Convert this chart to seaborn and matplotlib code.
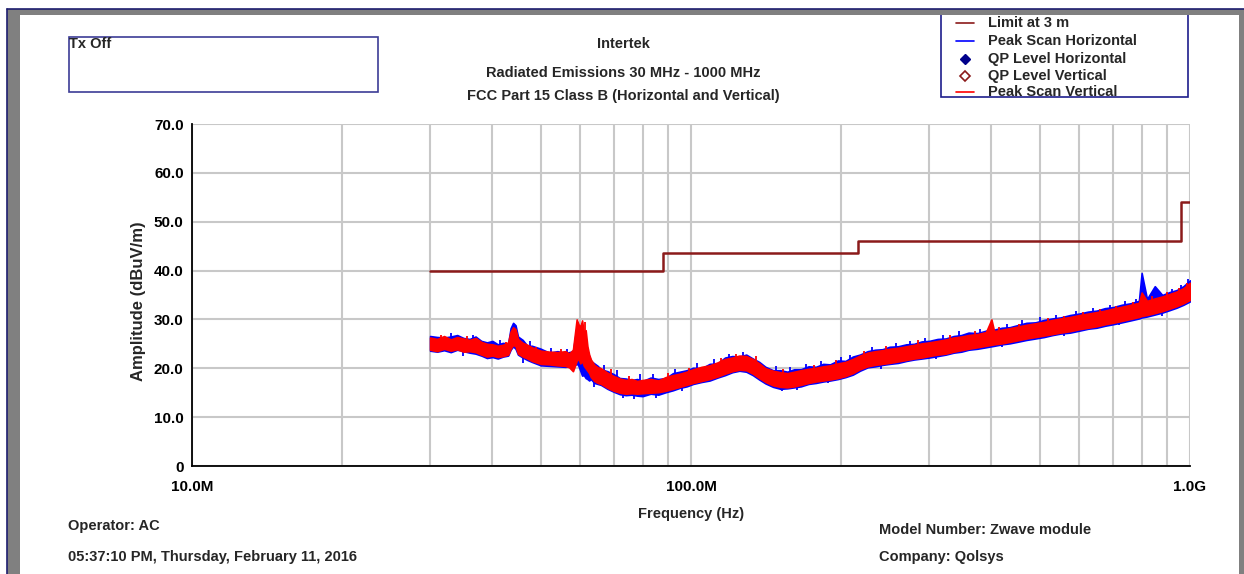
import numpy as np
import pandas as pd
import seaborn as sns
import matplotlib.pyplot as plt
from matplotlib.patches import Rectangle
from matplotlib.lines import Line2D
from matplotlib.ticker import LogLocator, FixedLocator, MultipleLocator, FuncFormatter, NullFormatter

# ---- data (MHz / dBuV/m) ----
freq_mhz = [30, 31, 32, 33, 34, 35, 36, 37, 38, 39, 40, 41, 42, 43, 43.5, 44, 44.5, 45, 46, 47,
            48, 50, 52, 54, 56, 57, 58, 59, 59.5, 60, 60.5, 61, 61.5, 62, 62.5, 63, 64, 65, 66, 68,
            70, 72, 74, 76, 78, 80, 83, 86, 89, 92, 95, 98, 101, 105, 109, 113, 117, 121, 125, 129,
            133, 137, 141, 146, 151, 156, 161, 166, 172, 178, 184, 190, 197, 204, 211, 218, 226, 234, 242, 250,
            260, 270, 280, 290, 300, 312, 324, 336, 348, 360, 375, 390, 400, 405, 420, 435, 450, 470, 490, 510,
            530, 550, 575, 600, 625, 650, 675, 700, 730, 760, 790, 800, 820, 850, 880, 910, 940, 970, 1000]

# peak scan vertical (red) envelope
vert_hi = [26.3, 26.0, 26.6, 25.9, 26.4, 26.1, 25.8, 26.2, 25.4, 25.0, 24.9, 24.6, 24.8, 25.3, 27.5, 28.4, 28.0, 26.0, 25.2, 24.8,
           24.3, 23.6, 23.4, 23.3, 23.5, 23.0, 23.8, 30.0, 29.0, 28.5, 29.8, 27.0, 27.8, 24.5, 22.8, 21.8, 20.7, 20.2, 20.0, 19.1,
           18.4, 17.9, 17.6, 17.8, 17.4, 17.6, 17.8, 17.5, 18.2, 18.6, 18.9, 19.3, 19.8, 20.3, 20.6, 21.2, 21.9, 22.2, 22.6, 22.5,
           21.9, 21.0, 20.0, 19.5, 19.2, 19.0, 19.3, 19.6, 19.9, 20.1, 20.4, 20.6, 21.0, 21.3, 21.9, 22.6, 23.2, 23.5, 23.7, 24.0,
           24.2, 24.5, 24.8, 25.1, 25.3, 25.6, 25.9, 26.3, 26.5, 26.8, 27.0, 27.4, 30.0, 27.6, 27.9, 28.2, 28.5, 28.9, 29.2, 29.5,
           29.9, 30.2, 30.5, 30.9, 31.2, 31.5, 31.8, 32.2, 32.6, 33.0, 33.4, 35.5, 33.8, 34.3, 34.7, 35.2, 35.7, 36.4, 37.5]
vert_lo = [23.8, 23.5, 24.0, 23.6, 23.9, 23.4, 23.5, 23.3, 22.8, 22.4, 22.6, 22.3, 22.5, 22.8, 24.0, 24.8, 24.5, 23.0, 22.4, 22.0,
           21.5, 20.9, 20.8, 20.6, 20.5, 20.2, 19.4, 21.5, 22.0, 21.0, 21.5, 20.5, 20.0, 19.5, 19.0, 18.2, 17.4, 17.0, 16.8, 16.0,
           15.4, 15.0, 14.8, 14.9, 14.8, 14.9, 15.0, 15.1, 15.4, 15.8, 16.2, 16.6, 17.0, 17.4, 17.8, 18.3, 18.9, 19.4, 19.7, 19.6,
           18.9, 18.0, 17.2, 16.5, 16.2, 16.1, 16.3, 16.6, 17.0, 17.3, 17.5, 17.7, 18.0, 18.4, 19.0, 19.8, 20.4, 20.7, 20.9, 21.1,
           21.4, 21.7, 22.0, 22.2, 22.5, 22.8, 23.0, 23.4, 23.7, 24.0, 24.3, 24.6, 24.8, 24.9, 25.1, 25.4, 25.7, 26.1, 26.4, 26.7,
           27.0, 27.3, 27.6, 28.0, 28.3, 28.6, 29.0, 29.3, 29.7, 30.1, 30.5, 30.7, 30.9, 31.3, 31.7, 32.2, 32.7, 33.3, 34.0]

# peak scan horizontal (blue) envelope
horiz_hi = [26.6, 26.4, 26.3, 26.5, 26.8, 26.2, 26.0, 26.5, 25.6, 25.3, 25.6, 24.9, 25.2, 25.0, 28.2, 29.3, 28.8, 26.5, 25.8, 24.6,
            24.6, 24.0, 23.2, 23.5, 23.1, 23.3, 23.5, 28.5, 27.5, 27.9, 26.5, 27.5, 26.0, 23.5, 22.5, 21.5, 21.0, 20.5, 19.8, 19.4,
            18.8, 18.0, 17.9, 17.6, 17.8, 17.4, 18.1, 17.8, 18.0, 19.0, 19.3, 19.6, 20.1, 20.0, 20.9, 21.0, 22.2, 22.5, 22.4, 22.8,
            22.0, 21.3, 20.3, 19.6, 19.6, 19.3, 19.8, 19.8, 20.4, 20.3, 20.9, 20.8, 21.6, 21.5, 22.4, 22.8, 23.5, 23.8, 23.9, 24.4,
            24.5, 24.9, 25.0, 25.5, 25.6, 26.0, 26.1, 26.6, 26.8, 27.3, 27.2, 27.7, 28.0, 27.9, 28.3, 28.4, 28.8, 29.3, 29.4, 29.9,
            30.2, 30.4, 30.9, 31.2, 31.6, 31.8, 32.3, 32.5, 33.0, 33.3, 33.8, 39.5, 34.2, 36.8, 35.0, 35.6, 36.0, 36.8, 38.0]
horiz_lo = [23.6, 23.4, 23.7, 23.3, 23.8, 23.5, 23.2, 23.0, 22.6, 22.1, 22.3, 22.0, 22.4, 22.6, 23.8, 24.5, 24.0, 22.8, 22.2, 21.7,
            21.3, 20.6, 20.5, 20.4, 20.3, 20.4, 20.2, 21.0, 20.5, 19.5, 18.5, 18.6, 18.0, 17.8, 17.5, 17.8, 17.0, 16.8, 16.6, 15.8,
            15.2, 14.7, 14.5, 14.6, 14.4, 14.3, 14.8, 14.6, 15.1, 15.5, 16.0, 16.3, 16.8, 17.2, 17.5, 18.1, 18.6, 19.2, 19.5, 19.3,
            18.6, 17.7, 16.9, 16.2, 15.8, 15.9, 16.1, 16.3, 16.8, 17.0, 17.3, 17.5, 17.8, 18.2, 18.7, 19.5, 20.2, 20.4, 20.7, 20.9,
            21.1, 21.5, 21.8, 22.0, 22.2, 22.5, 22.8, 23.2, 23.4, 23.8, 24.0, 24.3, 24.5, 24.6, 24.9, 25.1, 25.4, 25.8, 26.1, 26.4,
            26.8, 27.1, 27.3, 27.7, 28.1, 28.3, 28.7, 29.0, 29.4, 29.8, 30.2, 30.4, 30.6, 31.0, 31.4, 31.9, 32.4, 33.0, 33.7]

# isolated noise spikes poking out of each band (freq MHz, tip level)
horiz_spike_f = [33, 36.5, 41.5, 47.5, 52.5, 56.5, 67, 71, 79, 84, 93, 103, 111, 119, 127, 148, 158, 170, 182, 200,
                 208, 230, 258, 275, 295, 320, 345, 380, 430, 460, 500, 540, 590, 640, 690, 740, 780, 830, 870, 920,
                 960, 990]
horiz_spike_lvl = [27.2, 26.9, 25.8, 25.6, 24.1, 24.0, 20.6, 19.6, 18.8, 18.9, 19.8, 21.0, 21.8, 23.0, 23.4, 20.5, 20.2, 20.9, 21.4, 22.3,
                   22.8, 24.3, 25.2, 25.6, 26.3, 26.8, 27.6, 28.0, 29.0, 29.8, 30.4, 31.0, 31.8, 32.4, 33.0, 33.7, 34.2, 34.9, 35.6, 36.2,
                   37.0, 38.2]
horiz_dip_f = [35, 46, 64, 73, 77, 85, 96, 152, 163, 188, 240, 310, 420, 560, 720, 880]
horiz_dip_lvl = [22.5, 21.0, 16.2, 13.9, 13.8, 14.0, 15.3, 15.3, 15.5, 16.9, 19.9, 21.8, 24.3, 26.6, 28.9, 30.8]

vert_spike_f = [31.5, 35.5, 42.5, 49, 55, 58.5, 61.3, 69, 75, 90, 99, 115, 123, 135, 153, 176, 195, 222, 246, 285,
                330, 370, 415, 455, 520, 560, 610, 660, 710, 770, 840, 900, 950, 985]
vert_spike_lvl = [26.8, 26.7, 25.4, 24.4, 23.9, 26.0, 29.5, 19.8, 18.5, 19.0, 20.0, 22.2, 23.0, 22.6, 19.8, 20.7, 21.6, 23.6, 24.6, 25.8,
                  26.9, 27.6, 28.4, 29.1, 30.2, 30.8, 31.6, 32.1, 32.8, 33.6, 34.8, 35.6, 36.4, 37.4]

# FCC Part 15 Class B limit at 3 m
limit_freq = [30, 88, 88, 216, 216, 960, 960, 1000]
limit_level = [40, 40, 43.5, 43.5, 46, 46, 54, 54]

y_ticks = [0, 10, 20, 30, 40, 50, 60, 70]
x_ticks = [10, 100, 1000]
x_tick_labels = ['10.0M', '100.0M', '1.0G']

W, H = 1244, 574


def fx(x):
    return x / W


def fy(y):
    return 1 - y / H


sns.set_style('white')
plt.rcParams['font.family'] = ['Liberation Sans', 'DejaVu Sans']
plt.rcParams['font.weight'] = 'bold'

fig = plt.figure(figsize=(W / 100, H / 100), dpi=100)
ax = fig.add_axes([fx(192), fy(466), fx(1190) - fx(192), fy(124) - fy(466)])
ax.set_axisbelow(True)

BLUE, RED, LIMIT = '#0000FF', '#FF0000', '#8B1A1A'
spike_len = 2.5

# horizontal scan (underneath)
ax.fill_between(freq_mhz, horiz_lo, horiz_hi, color=BLUE, lw=1.2, zorder=3)
ax.vlines(horiz_spike_f, [v - spike_len for v in horiz_spike_lvl], horiz_spike_lvl, color=BLUE, lw=1.3, zorder=3)
ax.vlines(horiz_dip_f, horiz_dip_lvl, [v + spike_len for v in horiz_dip_lvl], color=BLUE, lw=1.3, zorder=3)
# vertical scan on top
ax.fill_between(freq_mhz, vert_lo, vert_hi, color=RED, lw=1.2, zorder=4)
ax.vlines(vert_spike_f, [v - spike_len for v in vert_spike_lvl], vert_spike_lvl, color=RED, lw=1.3, zorder=4)

df_limit = pd.DataFrame({'freq': limit_freq, 'level': limit_level})
sns.lineplot(data=df_limit, x='freq', y='level', estimator=None, sort=False,
             color=LIMIT, lw=1.8, ax=ax, zorder=5)

ax.set_xscale('log')
ax.set_xlim(10, 1000)
ax.set_ylim(0, 70)

ax.xaxis.set_major_locator(FixedLocator(x_ticks))
ax.xaxis.set_major_formatter(FuncFormatter(lambda v, p: x_tick_labels[x_ticks.index(round(v))] if round(v) in x_ticks else ''))
ax.xaxis.set_minor_locator(LogLocator(base=10, subs=[2, 3, 4, 5, 6, 7, 8, 9]))
ax.xaxis.set_minor_formatter(NullFormatter())
ax.yaxis.set_major_locator(FixedLocator(y_ticks))
ax.yaxis.set_major_formatter(FuncFormatter(lambda v, p: '0' if v == 0 else f'{v:.1f}'))
ax.yaxis.set_minor_locator(MultipleLocator(2))

ax.grid(True, which='major', axis='both', color='#C8C8C8', lw=1.5)
ax.grid(True, which='minor', axis='x', color='#C8C8C8', lw=1.5)

for s in ['top', 'right']:
    ax.spines[s].set_visible(False)
for s in ['left', 'bottom']:
    ax.spines[s].set_color('black')
    ax.spines[s].set_linewidth(1.3)
    ax.spines[s].set_zorder(6)

ax.tick_params(axis='y', which='major', direction='inout', length=10, width=1.2,
               labelsize=11, pad=1, colors='black')
ax.tick_params(axis='y', which='minor', direction='inout', length=7, width=1.0, colors='black')
ax.tick_params(axis='x', which='major', direction='inout', length=8, width=1.0,
               labelsize=11, pad=6, colors='black')
ax.tick_params(axis='x', which='minor', direction='inout', length=6, width=0.8, colors='black')
for lab in ax.get_xticklabels() + ax.get_yticklabels():
    lab.set_fontweight('bold')

ax.set_xlabel('Frequency (Hz)', fontsize=10.5, fontweight='bold')
ax.xaxis.set_label_coords(0.5, -(507 - 466) / 342)
ax.set_ylabel('Amplitude (dBuV/m)', fontsize=12, fontweight='bold')
ax.yaxis.set_label_coords((146 - 192) / 998, (466 - 301) / 342)

# titles
fig.text(fx(623), fy(44), 'Intertek', ha='center', va='center', fontsize=10.5, fontweight='bold')
fig.text(fx(623), fy(73), 'Radiated Emissions 30 MHz - 1000 MHz', ha='center', va='center',
         fontsize=10.5, fontweight='bold')
fig.text(fx(623), fy(96), 'FCC Part 15 Class B (Horizontal and Vertical)', ha='center', va='center',
         fontsize=10.5, fontweight='bold')

# Tx Off box
fig.patches.append(Rectangle((fx(69), fy(92)), fx(378) - fx(69), fy(37) - fy(92), transform=fig.transFigure,
                             fill=False, edgecolor='#3C3C96', lw=1.2))
fig.text(fx(69), fy(44), 'Tx Off', ha='left', va='center', fontsize=10.5, fontweight='bold')

# legend box
fig.patches.append(Rectangle((fx(941), fy(97)), fx(1188) - fx(941), fy(14) - fy(97), transform=fig.transFigure,
                             fill=False, edgecolor='#1E1E8C', lw=1.2))
leg_rows = [
    ('Limit at 3 m', 'line', LIMIT, 23),
    ('Peak Scan Horizontal', 'line', BLUE, 41),
    ('QP Level Horizontal', 'fdiamond', '#00008B', 59),
    ('QP Level Vertical', 'odiamond', LIMIT, 76),
    ('Peak Scan Vertical', 'line', RED, 92),
]
for label, kind, col, yy in leg_rows:
    if kind == 'line':
        fig.lines.append(Line2D([fx(956), fx(974)], [fy(yy), fy(yy)], transform=fig.transFigure, color=col, lw=1.2))
    elif kind == 'fdiamond':
        fig.lines.append(Line2D([fx(965)], [fy(yy)], transform=fig.transFigure, marker='D', ms=5,
                                color=col, mfc=col, mec=col, ls='none'))
    else:
        fig.lines.append(Line2D([fx(965)], [fy(yy)], transform=fig.transFigure, marker='D', ms=5,
                                color=col, mfc='white', mec=col, mew=1.2, ls='none'))
    fig.text(fx(988), fy(yy), label, ha='left', va='center', fontsize=10.5, fontweight='bold')

# footer
fig.text(fx(68), fy(526), 'Operator: AC', ha='left', va='center', fontsize=10.5, fontweight='bold')
fig.text(fx(68), fy(557), '05:37:10 PM, Thursday, February 11, 2016', ha='left', va='center',
         fontsize=10.5, fontweight='bold')
fig.text(fx(879), fy(530), 'Model Number: Zwave module', ha='left', va='center', fontsize=10.5, fontweight='bold')
fig.text(fx(879), fy(557), 'Company: Qolsys', ha='left', va='center', fontsize=10.5, fontweight='bold')

# window frame
gray = '#808080'
fig.patches.append(Rectangle((fx(7), fy(15)), 1 - fx(7), fy(9) - fy(15), transform=fig.transFigure,
                             facecolor=gray, edgecolor='none'))
fig.patches.append(Rectangle((fx(7), 0), fx(20) - fx(7), fy(9), transform=fig.transFigure,
                             facecolor=gray, edgecolor='none'))
fig.patches.append(Rectangle((fx(1239), 0), 1 - fx(1239), fy(9), transform=fig.transFigure,
                             facecolor=gray, edgecolor='none'))
fig.lines.append(Line2D([fx(7), 1], [fy(9), fy(9)], transform=fig.transFigure, color='#1E1E6E', lw=1.2))
fig.lines.append(Line2D([fx(7), fx(7)], [0, fy(9)], transform=fig.transFigure, color='#1E1E6E', lw=1.2))

fig.savefig('out.png', dpi=100)
